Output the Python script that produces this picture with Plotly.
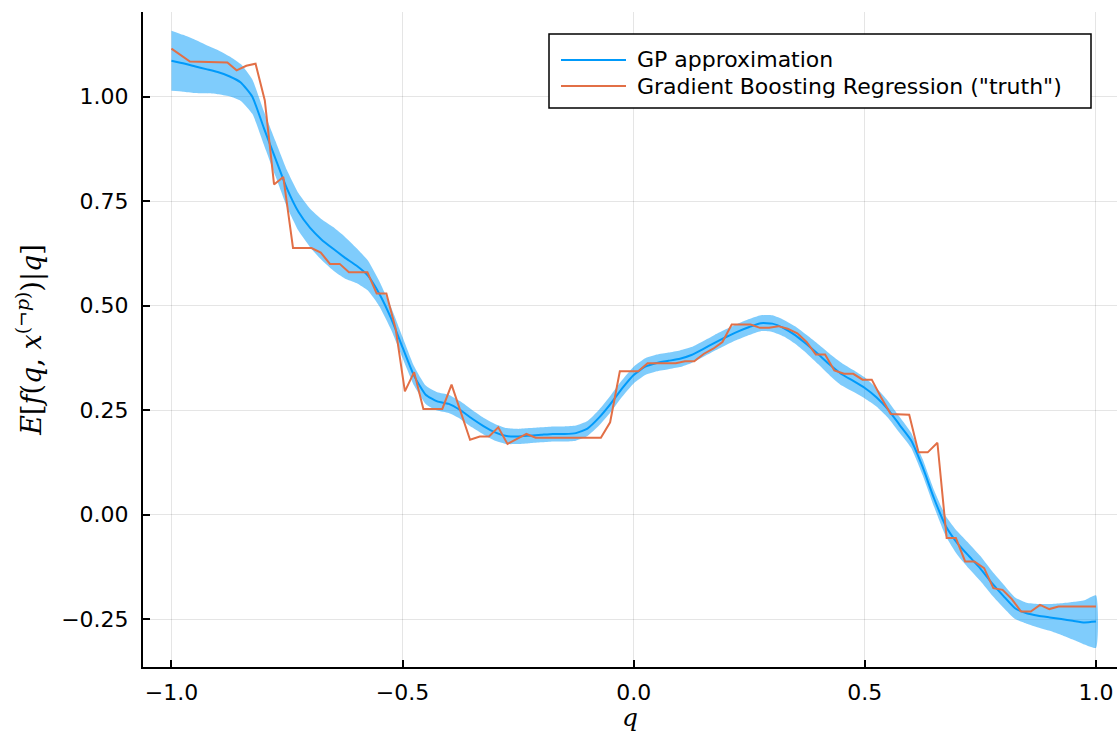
import plotly.graph_objects as go

# ---------------- data ----------------
# GP approximation: grid, posterior mean and band half-width
gp_q = [-1.000, -0.975, -0.950, -0.925, -0.900, -0.875, -0.850, -0.825, -0.800, -0.775,
        -0.750, -0.725, -0.700, -0.675, -0.650, -0.625, -0.600, -0.575, -0.550, -0.525,
        -0.500, -0.475, -0.450, -0.425, -0.400, -0.375, -0.350, -0.325, -0.300, -0.275,
        -0.250, -0.225, -0.200, -0.175, -0.150, -0.125, -0.100, -0.075, -0.050, -0.025,
        0.000, 0.025, 0.050, 0.075, 0.100, 0.125, 0.150, 0.175, 0.200, 0.225,
        0.250, 0.275, 0.300, 0.325, 0.350, 0.375, 0.400, 0.425, 0.450, 0.475,
        0.500, 0.525, 0.550, 0.575, 0.600, 0.625, 0.650, 0.675, 0.700, 0.725,
        0.750, 0.775, 0.800, 0.825, 0.850, 0.875, 0.900, 0.925, 0.950, 0.975, 1.000]
gp_mean = [1.086, 1.080, 1.073, 1.066, 1.059, 1.049, 1.034, 1.000, 0.925, 0.852,
           0.780, 0.724, 0.686, 0.658, 0.636, 0.615, 0.596, 0.572, 0.528, 0.470,
           0.400, 0.332, 0.287, 0.271, 0.265, 0.250, 0.230, 0.212, 0.197, 0.188,
           0.187, 0.189, 0.191, 0.193, 0.193, 0.195, 0.206, 0.232, 0.265, 0.302,
           0.334, 0.354, 0.363, 0.368, 0.373, 0.382, 0.396, 0.411, 0.425, 0.438,
           0.449, 0.458, 0.457, 0.446, 0.429, 0.407, 0.383, 0.358, 0.336, 0.320,
           0.303, 0.281, 0.252, 0.215, 0.178, 0.114, 0.038, -0.027, -0.068, -0.099,
           -0.129, -0.164, -0.195, -0.224, -0.236, -0.242, -0.246, -0.250, -0.254, -0.258, -0.256]
gp_halfwidth = [0.072, 0.068, 0.064, 0.058, 0.053, 0.048, 0.044, 0.041, 0.040, 0.042,
                0.044, 0.045, 0.046, 0.049, 0.052, 0.050, 0.042, 0.036, 0.030, 0.027,
                0.025, 0.023, 0.022, 0.022, 0.022, 0.021, 0.021, 0.020, 0.020, 0.019,
                0.018, 0.018, 0.018, 0.018, 0.018, 0.018, 0.018, 0.019, 0.020, 0.020,
                0.020, 0.020, 0.020, 0.020, 0.020, 0.019, 0.019, 0.019, 0.019, 0.019,
                0.019, 0.019, 0.020, 0.020, 0.021, 0.022, 0.024, 0.026, 0.027, 0.026,
                0.025, 0.022, 0.020, 0.019, 0.018, 0.019, 0.020, 0.024, 0.028, 0.030,
                0.030, 0.029, 0.028, 0.026, 0.025, 0.028, 0.032, 0.038, 0.045, 0.053, 0.063]

# Gradient Boosting Regression ("truth") vertices
gbr_q = [-1.000, -0.960, -0.879, -0.859, -0.838, -0.818, -0.798, -0.778, -0.758, -0.737,
         -0.697, -0.677, -0.657, -0.636, -0.616, -0.576, -0.556, -0.535, -0.515, -0.495,
         -0.475, -0.455, -0.414, -0.394, -0.354, -0.333, -0.313, -0.293, -0.273, -0.232,
         -0.212, -0.071, -0.051, -0.030, 0.010, 0.030, 0.091, 0.111, 0.131, 0.152,
         0.172, 0.192, 0.212, 0.253, 0.273, 0.293, 0.313, 0.333, 0.354, 0.374,
         0.394, 0.414, 0.434, 0.455, 0.475, 0.495, 0.515, 0.535, 0.556, 0.596,
         0.616, 0.636, 0.657, 0.677, 0.697, 0.717, 0.737, 0.758, 0.778, 0.798,
         0.818, 0.838, 0.859, 0.879, 0.899, 0.919, 1.000]
gbr_val = [1.115, 1.084, 1.082, 1.063, 1.074, 1.079, 0.991, 0.790, 0.808, 0.638,
           0.638, 0.627, 0.600, 0.600, 0.580, 0.580, 0.529, 0.529, 0.445, 0.295,
           0.341, 0.253, 0.253, 0.311, 0.179, 0.187, 0.187, 0.209, 0.169, 0.193,
           0.184, 0.184, 0.221, 0.343, 0.343, 0.362, 0.362, 0.367, 0.367, 0.385,
           0.397, 0.413, 0.455, 0.455, 0.447, 0.447, 0.451, 0.445, 0.434, 0.413,
           0.383, 0.383, 0.345, 0.337, 0.337, 0.323, 0.323, 0.281, 0.241, 0.239,
           0.149, 0.149, 0.172, -0.056, -0.056, -0.112, -0.112, -0.128, -0.176, -0.180,
           -0.202, -0.232, -0.232, -0.216, -0.226, -0.220, -0.220]

x_ticks = [-1.0, -0.5, 0.0, 0.5, 1.0]
y_ticks = [-0.25, 0.0, 0.25, 0.5, 0.75, 1.0]

series_names = ["GP approximation", 'Gradient Boosting Regression ("truth")']

# ---------------- style ----------------
BLUE = "#009AFA"
BAND = "rgba(0,154,250,0.5)"
ORANGE = "#E26F46"

W, H = 1117, 732
ML, MR, MT, MB = 143, 0, 12, 65

upper = [m + h for m, h in zip(gp_mean, gp_halfwidth)]
lower = [m - h for m, h in zip(gp_mean, gp_halfwidth)]

fig = go.Figure()
fig.add_trace(go.Scatter(
    x=gp_q + gp_q[::-1], y=upper + lower[::-1],
    fill="toself", fillcolor=BAND, line=dict(width=0, color=BAND, shape="spline", smoothing=0.5),
    mode="lines", hoverinfo="skip", showlegend=False, name="GP band"))
fig.add_trace(go.Scatter(
    x=gp_q, y=gp_mean, mode="lines", line=dict(color=BLUE, width=2, shape="spline", smoothing=0.5),
    name=series_names[0], showlegend=False))
fig.add_trace(go.Scatter(
    x=gbr_q, y=gbr_val, mode="lines", line=dict(color=ORANGE, width=2),
    name=series_names[1], showlegend=False))

pw = W - ML - MR
ph = H - MT - MB


def px_x(px):
    return (px - ML) / pw


def px_y(py):
    return (H - MB - py) / ph


# custom legend (box, line samples, labels)
fig.add_shape(type="rect", xref="paper", yref="paper",
              x0=px_x(549), x1=px_x(1091), y0=px_y(108), y1=px_y(34),
              line=dict(color="black", width=1.5), fillcolor="white", layer="above")
leg_rows = [(60, BLUE), (86, ORANGE)]
for (ry, col), name in zip(leg_rows, series_names):
    fig.add_shape(type="line", xref="paper", yref="paper",
                  x0=px_x(561), x1=px_x(626), y0=px_y(ry), y1=px_y(ry),
                  line=dict(color=col, width=2), layer="above")
    fig.add_annotation(xref="paper", yref="paper", x=px_x(635), y=px_y(ry),
                       xanchor="left", yanchor="middle", text=name, showarrow=False,
                       font=dict(family="DejaVu Sans", size=22, color="black"))

axis_common = dict(
    showgrid=True, gridcolor="rgba(0,0,0,0.1)", gridwidth=1,
    zeroline=False, showline=True, linecolor="black", linewidth=2,
    ticks="inside", ticklen=7, tickwidth=1.5, tickcolor="black",
    tickfont=dict(family="DejaVu Sans", size=22, color="black"),
    mirror=False,
)

fig.update_layout(
    width=W, height=H,
    margin=dict(l=ML, r=MR, t=MT, b=MB, pad=0),
    paper_bgcolor="white", plot_bgcolor="white",
    showlegend=False,
    xaxis=dict(range=[-1.0615, 1.0455], tickvals=x_ticks, tickformat=".1f",
               title=dict(text="<i>q</i>", font=dict(family="DejaVu Serif", size=25, color="black"),
                          standoff=8),
               ticklabelstandoff=5, **axis_common),
    yaxis=dict(range=[-0.3646, 1.2027], tickvals=y_ticks, tickformat=".2f",
               title=dict(text="<i>E</i>[<i>f</i>(<i>q</i>, <i>x</i><sup>(¬<i>p</i>)</sup>)|<i>q</i>]",
                          font=dict(family="DejaVu Serif", size=27, color="black"), standoff=12),
               ticklabelstandoff=8, **axis_common),
)

fig.write_html("out.html")
